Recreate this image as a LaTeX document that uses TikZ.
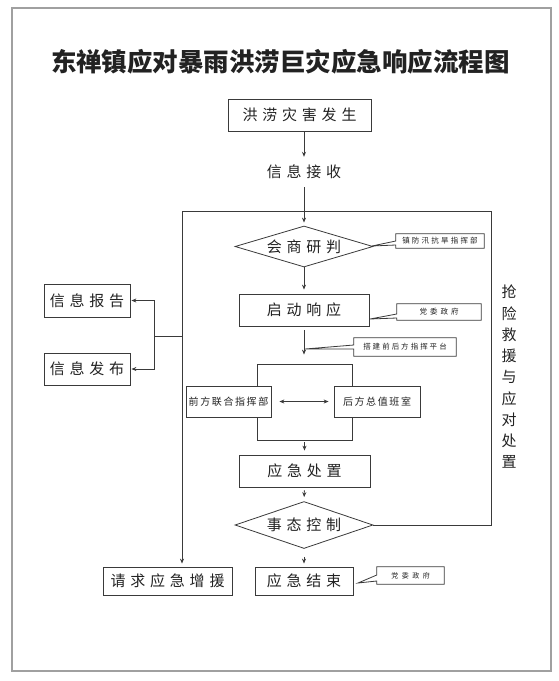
\documentclass[tikz,border=0pt]{standalone}
\usepackage{fontspec}
\usetikzlibrary{shapes.geometric,arrows.meta,calc}
\newfontfamily\cjk{Noto Sans CJK SC}
\definecolor{lncol}{HTML}{3A3A3A}
\definecolor{txtcol}{HTML}{222222}
\definecolor{bordercol}{HTML}{A0A0A0}
\makeatletter
\newcommand\lsp[2]{\def\lsp@amt{#1}\lsp@i#2\relax}
\def\lsp@i#1#2{#1\ifx\relax#2\expandafter\@gobbletwo\else\hspace{\lsp@amt}\fi\lsp@i#2}
\makeatother
\newcommand\callout[4]{%
  \draw[ln] ([yshift=-#3pt]#1.west) -- (#1.south west) -- (#1.south east) -- (#1.north east) -- (#1.north west) -- ([yshift=-#2pt]#1.west) -- (#4) -- cycle;}
\begin{document}
\begin{tikzpicture}[x=1pt,y=-1pt,
  ln/.style={draw=lncol,line width=0.8pt},
  arr/.style={ln,-{Stealth[length=5pt,width=4pt]}},
  bigbox/.style={draw=lncol,line width=0.8pt,fill=white,inner sep=0pt,text=txtcol,font=\cjk\fontsize{15}{17}\selectfont},
  smallbox/.style={bigbox,font=\cjk\fontsize{10}{12}\selectfont},
  dia/.style={bigbox,shape=diamond},
  txt/.style={inner sep=0pt,text=txtcol,font=\cjk\fontsize{15}{17}\selectfont},
  co/.style={inner sep=0pt,text=txtcol,font=\cjk\fontsize{7.5}{9}\selectfont},
  vert/.style={inner sep=0pt,align=center,text=txtcol,font=\cjk\fontsize{15}{21.25}\selectfont}]
\useasboundingbox (0,0) rectangle (559,681);
\draw[draw=bordercol,line width=1.4pt] (12,8) rectangle (551,671);
\node[text=txtcol,font=\cjk\bfseries\fontsize{25.5}{28}\selectfont] (title) at (280.5,62) {东禅镇应对暴雨洪涝巨灾应急响应流程图};
% main flow
\node[bigbox,minimum width=143pt,minimum height=32pt] (b1) at (299.5,115) {\lsp{4.8pt}{洪涝灾害发生}};
\node[txt,minimum height=18pt] (recv) at (304,172) {\lsp{4.8pt}{信息接收}};
\node[dia,shape aspect=3.37,minimum width=138pt,minimum height=41pt] (d1) at (304,246.5) {\lsp{4.8pt}{会商研判}};
\node[bigbox,minimum width=130pt,minimum height=32pt] (b2) at (304,310) {\lsp{4.8pt}{启动响应}};
\node[draw=lncol,line width=0.8pt,inner sep=0pt,minimum width=95pt,minimum height=76pt] (fr) at (304.5,402) {};
\node[smallbox,minimum width=85pt,minimum height=31pt] (f) at (228.5,401.5) {\lsp{1.6pt}{前方联合指挥部}};
\node[smallbox,minimum width=86pt,minimum height=31pt] (h) at (377,401.5) {\lsp{1.6pt}{后方总值班室}};
\node[bigbox,minimum width=131pt,minimum height=32pt] (b3) at (304.5,471) {\lsp{4.8pt}{应急处置}};
\node[dia,shape aspect=2.94,minimum width=138pt,minimum height=47pt] (d2) at (304,525) {\lsp{4.8pt}{事态控制}};
\node[bigbox,minimum width=129pt,minimum height=28pt] (q) at (167.5,581) {\lsp{4.8pt}{请求应急增援}};
\node[bigbox,minimum width=98pt,minimum height=28pt] (e) at (304,581) {\lsp{4.8pt}{应急结束}};
\node[bigbox,minimum width=86pt,minimum height=33pt] (r1) at (87,300.5) {\lsp{4.8pt}{信息报告}};
\node[bigbox,minimum width=86pt,minimum height=32pt] (r2) at (87,369) {\lsp{4.8pt}{信息发布}};
\node[vert] (v) at (509,377) {抢\\险\\救\\援\\与\\应\\对\\处\\置};
% callouts
\node[co,minimum width=88pt,minimum height=14pt] (c1) at (440,241) {\lsp{2.2pt}{镇防汛抗旱指挥部}};
\node[co,minimum width=84pt,minimum height=16pt] (c2) at (439,312) {\lsp{3pt}{党委政府}};
\node[co,minimum width=102pt,minimum height=18pt] (c3) at (405,347) {\lsp{2pt}{搭建前后方指挥平台}};
\node[co,font=\cjk\fontsize{7}{8}\selectfont,minimum width=67pt,minimum height=17pt] (c4) at (410.5,575.5) {\lsp{3.5pt}{党委政府}};
\coordinate (t1) at (372,246);
\coordinate (t2) at (370,319);
\coordinate (t3) at (305,349);
\coordinate (t4) at (358,583);
\callout{c1}{0}{4}{t1}
\callout{c2}{2}{6}{t2}
\callout{c3}{-2}{2}{t3}
\callout{c4}{-0.5}{5.5}{t4}
% loop
\coordinate (LT) at (182,211);
\coordinate (RT) at (491,211);
\coordinate (LB) at (182,336);
\coordinate (BR) at (154,336);
% arrows
\draw[arr,shorten >=6pt] (b1.south -| d1.north) -- (recv.north);
\draw[arr,shorten <=6pt,shorten >=3pt] (recv.south) -- (d1.north);
\draw[arr,shorten >=4pt] (d1.south) -- (b2.north);
\draw[arr,shorten <=4pt,shorten >=9pt] (b2.south) -- (fr.north -| b2.south);
\draw[arr,shorten <=2pt,shorten >=4pt] (fr.south -| b3.north) -- (b3.north);
\draw[arr,shorten <=3pt,shorten >=4pt] (b3.south) -- (d2.north);
\draw[arr,shorten <=8pt,shorten >=3pt] (d2.south) -- (e.north);
\draw[ln,{Stealth[length=5pt,width=4pt]}-{Stealth[length=5pt,width=4pt]},shorten <=8pt,shorten >=5pt] (f.east) -- (h.west);
\draw[arr,shorten >=3pt] (d2.east) -| (RT) -- (LT) -- (LT |- q.north);
\draw[ln] (LB) -- (BR);
\draw[arr,shorten >=1pt] (BR) |- (r1.east);
\draw[arr,shorten >=1pt] (BR) |- (r2.east);
\end{tikzpicture}
\end{document}
